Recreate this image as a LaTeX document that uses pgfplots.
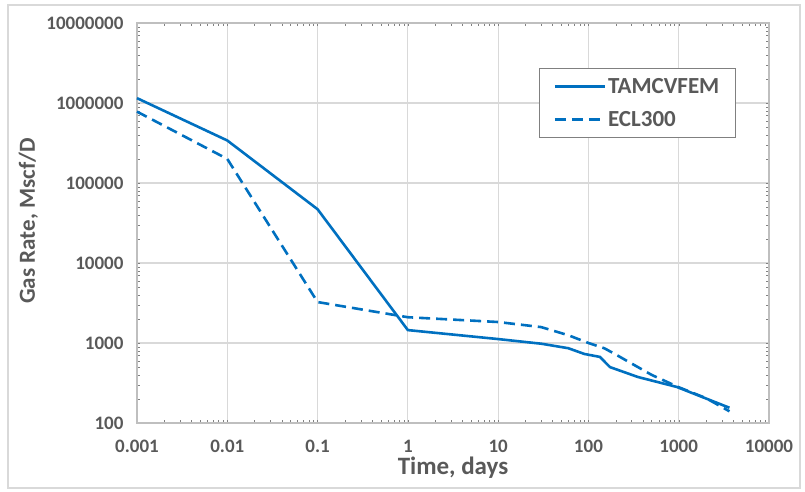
\documentclass[border=0pt]{standalone}
\usepackage{fontspec}
\setmainfont{Carlito}
\usepackage{pgfplots}
\pgfplotsset{compat=1.18}
\definecolor{txt}{HTML}{595959}
\definecolor{gridc}{HTML}{D9D9D9}
\definecolor{framec}{HTML}{BFBFBF}
\definecolor{serie}{HTML}{0070C0}

\begin{document}
\begin{tikzpicture}[x=1pt,y=1pt]
\begin{axis}[
  scale only axis,
  width=632pt, height=400pt,
  at={(0pt,0pt)}, anchor=south west,
  xmode=log, ymode=log,
  xmin=0.001, xmax=10000, ymin=100, ymax=10000000,
  xtick={0.001,0.01,0.1,1,10,100,1000,10000},
  xticklabels={0.001,0.01,0.1,1,10,100,1000,10000},
  ytick={100,1000,10000,100000,1000000,10000000},
  yticklabels={100,1000,10000,100000,1000000,10000000},
  minor xtick={}, minor ytick={},
  major tick length=0pt,
  axis line style={framec, line width=1.2pt},
  grid=major,
  major grid style={gridc, line width=1.2pt},
  tick label style={font=\bfseries\fontsize{19}{22}\selectfont, text=txt},
  xticklabel style={yshift=-14pt},
  yticklabel style={xshift=-10pt},
  xlabel={Time, days},
  ylabel={Gas Rate, Mscf/D},
  xlabel style={font=\bfseries\fontsize{25}{30}\selectfont, text=txt,
    at={(axis description cs:0.5,-0.1125)}, anchor=center},
  ylabel style={font=\bfseries\fontsize{23}{28}\selectfont, text=txt,
    at={(axis description cs:-0.172,0.505)}, anchor=center},
  legend style={at={(rel axis cs:0.636,0.8875)}, anchor=north west,
    draw=gray, line width=1pt, fill=white,
    font=\bfseries\fontsize{23}{27}\selectfont, text=txt,
    inner xsep=14pt, inner ysep=8pt, row sep=12pt},
  legend cell align=left,
  legend image code/.code={\draw[#1] (0pt,0pt) -- (50pt,0pt);},
  clip=false,
]
\addplot[serie, line width=2.6pt] coordinates {
  (0.001,1150000) (0.01,340000) (0.1,47000) (1,1450) (10,1120)
  (30,980) (60,860) (90,730) (134,670) (173,500) (353,376)
  (955,282) (3650,155)
};
\addlegendentry{TAMCVFEM}
\addplot[serie, line width=2.6pt, dash pattern=on 11pt off 6pt] coordinates {
  (0.001,780000) (0.01,200000) (0.1,3250) (1,2100) (10,1830)
  (30,1580) (60,1250) (100,1000) (150,860) (200,720) (500,400)
  (1000,280) (2000,205) (3650,140)
};
\addlegendentry{ECL300}
\end{axis}
\draw[gridc, line width=1.2pt] (-129,-65) rectangle (663,418);
\pgfresetboundingbox
\useasboundingbox (-137,-68) rectangle (668,423);
\end{tikzpicture}
\end{document}
